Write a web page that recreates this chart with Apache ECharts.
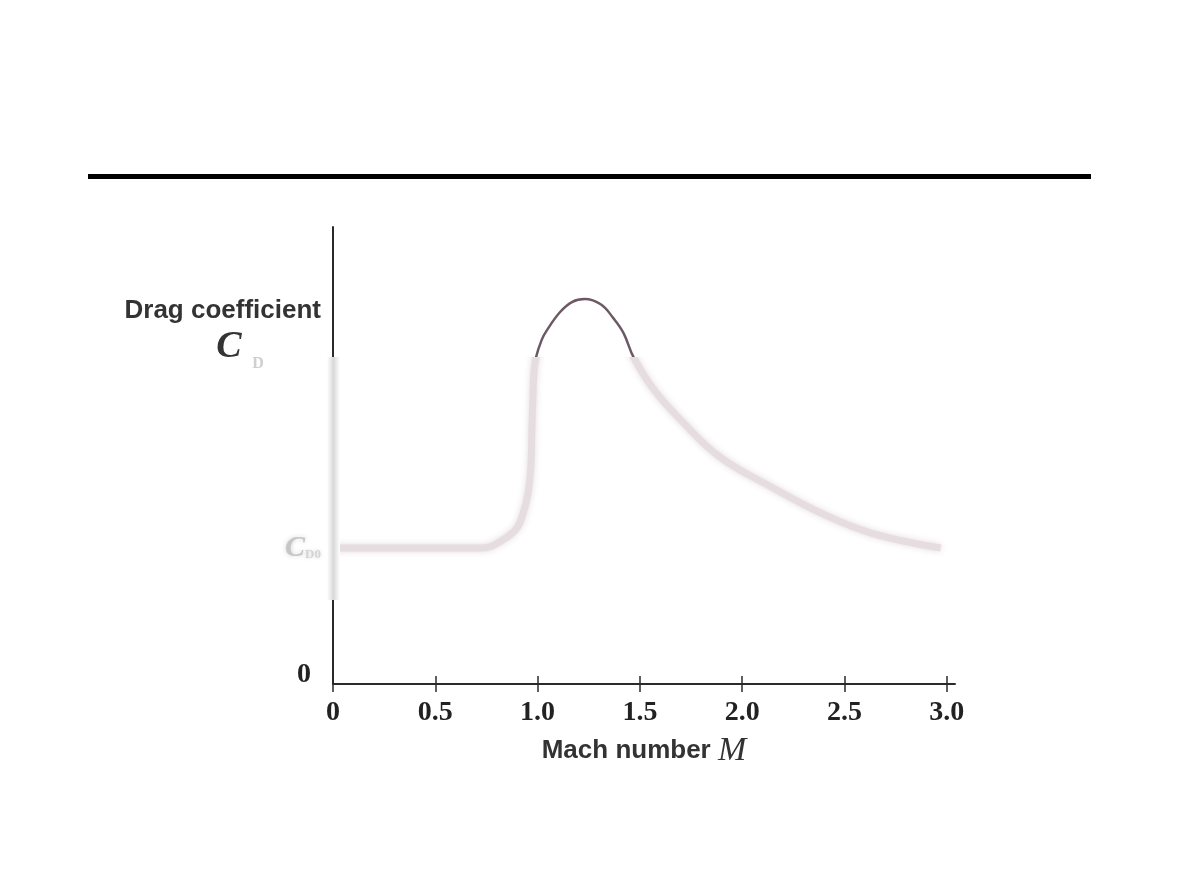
<!DOCTYPE html>
<html>
<head>
<meta charset="utf-8">
<script src="https://cdn.jsdelivr.net/npm/echarts@6/dist/echarts.min.js"></script>
<style>
html,body{margin:0;padding:0;background:#fff;}
#main{width:1180px;height:885px;}
</style>
</head>
<body>
<div id="main"></div>
<script>
// 曲线数据
var machValues = [0, 0.5, 0.73, 0.83, 0.90, 0.93, 0.953, 0.967, 0.972, 0.977, 0.982, 0.992, 1.02, 1.045, 1.11, 1.17, 1.23, 1.31, 1.37, 1.42, 1.47, 1.57, 1.70, 1.89, 2.14, 2.38, 2.63, 2.97];
var dragValues = [1.0, 1.0, 1.0, 1.06, 1.15, 1.26, 1.40, 1.60, 1.87, 2.11, 2.29, 2.40, 2.53, 2.60, 2.735, 2.81, 2.83, 2.79, 2.69, 2.58, 2.40, 2.16, 1.94, 1.67, 1.45, 1.26, 1.11, 1.0];
var xTickValues = [0, 0.5, 1.0, 1.5, 2.0, 2.5, 3.0];
var yLabelValues = [0, 1.0];

var seriesData = [];
machValues.forEach(function(m, i) {
	seriesData.push([m, dragValues[i]]);
});

var myChart = echarts.init(document.getElementById('main'));
var gridBox = { left: 333, top: 227, width: 622, height: 457 };
var xMax = 3.04, yMax = 3.36;
var axisColor = '#2a2a2a';
var blurTop = 357 / 885; // 模糊区上沿（像素比例）

// 上半段清晰、下半段模糊的线色
function splitColor(topColor, bottomColor) {
	return {
		type: 'linear', x: 0, y: 0, x2: 0, y2: 885, global: true,
		colorStops: [
			{ offset: 0, color: topColor },
			{ offset: blurTop, color: topColor },
			{ offset: blurTop, color: bottomColor },
			{ offset: 1, color: bottomColor }
		]
	};
}

var option = {
	backgroundColor: '#fff',
	animation: false,
	grid: [
		{ left: gridBox.left, top: gridBox.top, width: gridBox.width, height: gridBox.height },
		{ left: gridBox.left, top: gridBox.top, width: gridBox.width, height: gridBox.height }
	],
	xAxis: [
		{
			type: 'value',
			gridIndex: 0,
			min: 0,
			max: xMax,
			splitLine: { show: false },
			axisLine: { lineStyle: { color: axisColor, width: 2 } },
			axisTick: { customValues: xTickValues, length: 8, lineStyle: { color: axisColor, width: 1.5 } },
			axisLabel: {
				customValues: xTickValues,
				margin: 15,
				fontFamily: 'Liberation Serif',
				fontWeight: 'bold',
				fontSize: 28,
				color: '#222',
				formatter: function(v) {
					return v === 0 ? '0' : v.toFixed(1);
				}
			},
			name: '{a|Mach number }{m|M}',
			nameLocation: 'middle',
			nameGap: 50,
			nameTextStyle: {
				rich: {
					a: { fontFamily: 'Liberation Sans', fontWeight: 'bold', fontSize: 26, color: '#333' },
					m: { fontFamily: 'Liberation Serif', fontStyle: 'italic', fontSize: 34, color: '#333' }
				}
			}
		},
		{
			// 刻度朝上的一半
			type: 'value',
			gridIndex: 1,
			min: 0,
			max: xMax,
			splitLine: { show: false },
			axisLine: { show: false },
			axisTick: { customValues: xTickValues, inside: true, length: 8, lineStyle: { color: axisColor, width: 1.5 } },
			axisLabel: { show: false }
		}
	],
	yAxis: [
		{
			type: 'value',
			gridIndex: 0,
			min: 0,
			max: yMax,
			splitLine: { show: false },
			axisTick: { show: false },
			axisLine: { show: true, lineStyle: { color: axisColor, width: 2 } },
			axisLabel: {
				customValues: yLabelValues,
				margin: 12,
				formatter: function(v) {
					return v === 0 ? '{n|0}' : '{c|C}{s|D0}';
				},
				rich: {
					n: { fontFamily: 'Liberation Serif', fontWeight: 'bold', fontSize: 28, color: '#222', padding: [0, 10, 18, 0] },
					c: { fontFamily: 'Liberation Serif', fontWeight: 'bold', fontStyle: 'italic', fontSize: 30, color: '#c6c6c6',
						textShadowBlur: 5, textShadowColor: '#d0d0d0' },
					s: { fontFamily: 'Liberation Serif', fontWeight: 'bold', fontSize: 13, color: '#d4d4d4', padding: [14, 0, 0, 0],
						textShadowBlur: 4, textShadowColor: '#ddd' }
				}
			}
		},
		{ type: 'value', gridIndex: 1, min: 0, max: yMax, show: false }
	],
	series: [
		{
			type: 'line',
			xAxisIndex: 0,
			yAxisIndex: 0,
			data: seriesData,
			showSymbol: false,
			smooth: 0.4,
			z: 4,
			lineStyle: { width: 2.5, color: splitColor('#6d5965', 'rgba(255,255,255,0)') }
		},
		{
			type: 'line',
			xAxisIndex: 0,
			yAxisIndex: 0,
			data: seriesData,
			showSymbol: false,
			smooth: 0.4,
			z: 3,
			lineStyle: { width: 7, color: splitColor('rgba(255,255,255,0)', '#e6dde1'),
				shadowBlur: 6, shadowColor: 'rgba(225,214,219,0.9)' }
		}
	],
	graphic: [
		{ type: 'line', shape: { x1: 88, y1: 176.5, x2: 1091, y2: 176.5 }, style: { stroke: '#000', lineWidth: 5 } },
		{
			type: 'text', x: 321, y: 311,
			style: { text: 'Drag coefficient', textAlign: 'right', textVerticalAlign: 'middle',
				font: 'bold 26px "Liberation Sans"', fill: '#333' }
		},
		{
			type: 'text', x: 229, y: 347,
			style: { text: 'C', textAlign: 'center', textVerticalAlign: 'middle',
				font: 'italic bold 38px "Liberation Serif"', fill: '#333' }
		},
		{
			type: 'text', x: 258, y: 364,
			style: { text: 'D', textAlign: 'center', textVerticalAlign: 'middle',
				font: 'bold 16px "Liberation Serif"', fill: '#cfcfcf', shadowBlur: 5, shadowColor: '#ccc' }
		},
		{
			// 坐标轴模糊段
			type: 'rect', z: 100, shape: { x: 327, y: 357, width: 13, height: 243 },
			style: {
				fill: new echarts.graphic.LinearGradient(0, 0, 1, 0, [
					{ offset: 0, color: '#ffffff' },
					{ offset: 0.5, color: '#d9d9d9' },
					{ offset: 1, color: '#ffffff' }
				])
			}
		}
	]
};
myChart.setOption(option, true);
</script>
</body>
</html>
